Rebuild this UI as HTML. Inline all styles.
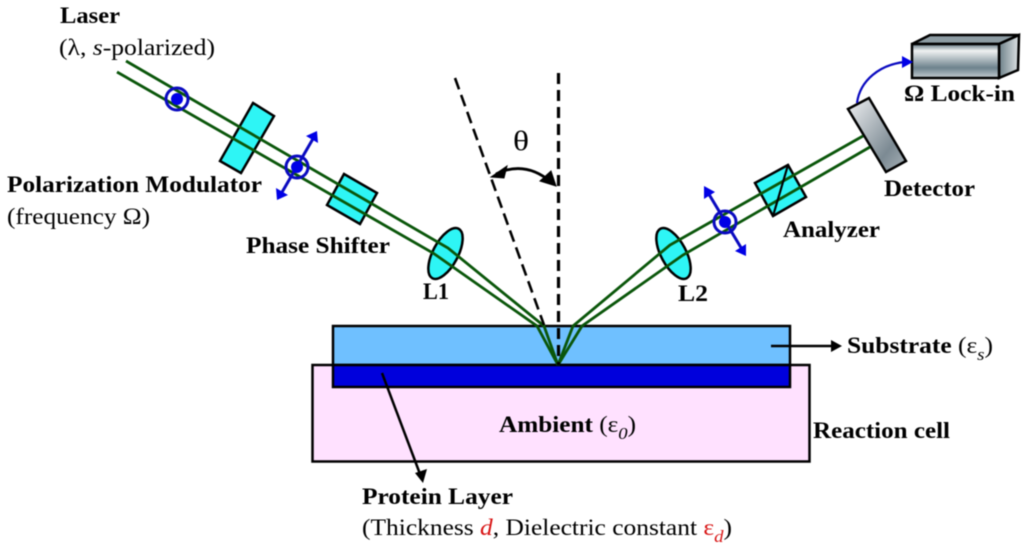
<!DOCTYPE html>
<html><head><meta charset="utf-8"><style>
html,body{margin:0;padding:0;background:#fff;width:1024px;height:549px;overflow:hidden}
svg{display:block;filter:blur(0.45px)}
text{font-family:"Liberation Serif",serif;font-size:23px;fill:#000}
.b{font-weight:bold}
.s{font-size:17px;font-style:italic}
.r{fill:#d81414}
</style></head><body>
<svg width="1024" height="549" viewBox="0 0 1024 549" xmlns="http://www.w3.org/2000/svg">
<defs>
<linearGradient id="g1" x1="0" y1="0" x2="0" y2="1"><stop offset="0" stop-color="#5f7480"/><stop offset=".2" stop-color="#f0f2f2"/><stop offset=".7" stop-color="#6d828d"/><stop offset="1" stop-color="#c5cdd2"/></linearGradient>
<linearGradient id="g2" x1="0" y1="0" x2="1" y2="1"><stop offset="0" stop-color="#f0f1f3"/><stop offset=".7" stop-color="#7c8a93"/><stop offset="1" stop-color="#a9b3b9"/></linearGradient>
<linearGradient id="g3" x1="0" y1="0" x2="1" y2="0"><stop offset="0" stop-color="#6d8088"/><stop offset="1" stop-color="#dfe4e6"/></linearGradient>
</defs>
<g stroke="#000">
<rect x="312.500" y="365" width="497" height="96.500" fill="#ffe1ff" stroke-width="2.500"/>
<rect x="333" y="326" width="457" height="39" fill="#6fc0ff" stroke-width="2.500"/>
<rect x="333" y="365" width="457" height="22" fill="#0000dc" stroke-width="2.500"/>
<polygon points="253,103 274,116 241,173 220,161" fill="#2ef5f5" stroke-width="2.500"/>
<polygon points="344,174 377,193 360,224 327,205" fill="#2ef5f5" stroke-width="2.500"/>
<polygon points="755,183 788,165 806,197 773,216" fill="#2ef5f5" stroke-width="2.500"/>
<ellipse cx="445.500" cy="253.500" rx="12.500" ry="28" transform="rotate(28 445.500 253.500)" fill="#2ef5f5" stroke-width="2.500"/>
<ellipse cx="673.500" cy="253.500" rx="12.500" ry="28" transform="rotate(-28 673.500 253.500)" fill="#2ef5f5" stroke-width="2.500"/>
<polygon points="848,109 869,98 906,161 886,172" fill="url(#g2)" stroke-width="2.500"/>
<polygon points="912,44 999,44 1019,35 930,35" fill="#8d9ca3" stroke-width="2.500"/>
<polygon points="999,44 1019,35 1018,70 999,78" fill="url(#g3)" stroke-width="2.500"/>
<rect x="912" y="44" width="87" height="34" fill="url(#g1)" stroke-width="2.500"/>
</g>
<g fill="none" stroke="#0a560a" stroke-width="2.800">
<polyline points="126,61 448,248 544,326 558,365"/>
<polyline points="117,72 433,253 537,326 558,365"/>
<polyline points="863,136 670,245 573,326 558,365"/>
<polyline points="870,147 683,255 582,326 558,365"/>
</g>
<line x1="788" y1="165" x2="773" y2="216" stroke="#000" stroke-width="2.200"/>
<line x1="558.500" y1="73" x2="558.500" y2="365" stroke="#000" stroke-width="3.200" stroke-dasharray="11 6"/>
<line x1="455" y1="78" x2="544" y2="325" stroke="#000" stroke-width="2.600" stroke-dasharray="12 6"/>
<path d="M496,174 Q525,160 551,182" fill="none" stroke="#000" stroke-width="2.800"/>
<polygon points="491,177 507,166 504,178" fill="#000" stroke="#000"/>
<polygon points="556,186 540,181 551,171" fill="#000" stroke="#000"/>
<g fill="none" stroke="#0a0ac0" stroke-width="3">
<circle cx="177" cy="99" r="11"/><circle cx="297" cy="167" r="11"/><circle cx="725" cy="222" r="11"/>
<line x1="314" y1="137" x2="281" y2="194"/>
<line x1="707" y1="191" x2="743" y2="251"/>
<path d="M857,103 C860,80 880,65 904,62" stroke-width="2.200"/>
</g>
<g fill="#0000e6">
<circle cx="177" cy="99" r="6"/><circle cx="297" cy="167" r="6"/><circle cx="725" cy="222" r="6"/>
<polygon points="317,131 318,143 306,136"/>
<polygon points="277,200 276,188 288,195"/>
<polygon points="704,186 715,192 704,199"/>
<polygon points="746,256 746,244 735,251"/>
<polygon points="913,62 902,56 902,68"/>
</g>
<g stroke="#000" stroke-width="2.500">
<line x1="771" y1="346" x2="835" y2="346"/>
<line x1="382" y1="373" x2="420" y2="474"/>
</g>
<polygon points="842,346 831,340 831,352" fill="#000"/>
<polygon points="423,483 415,473 427,469" fill="#000"/>

<text class="b" x="60" y="23" textLength="60" lengthAdjust="spacingAndGlyphs">Laser</text>
<text x="59" y="55" textLength="156" lengthAdjust="spacingAndGlyphs">(λ, <tspan font-style="italic">s</tspan>-polarized)</text>
<text class="b" x="7" y="192" textLength="255" lengthAdjust="spacingAndGlyphs">Polarization Modulator</text>
<text x="7" y="224" textLength="143" lengthAdjust="spacingAndGlyphs">(frequency Ω)</text>
<text class="b" x="246" y="253" textLength="144" lengthAdjust="spacingAndGlyphs">Phase Shifter</text>
<text class="b" x="423" y="299" textLength="26" lengthAdjust="spacingAndGlyphs">L1</text>
<text class="b" x="678" y="301" textLength="30" lengthAdjust="spacingAndGlyphs">L2</text>
<text x="513" y="150" style="font-size:27px" textLength="16" lengthAdjust="spacingAndGlyphs">θ</text>
<text class="b" x="783" y="237" textLength="97" lengthAdjust="spacingAndGlyphs">Analyzer</text>
<text class="b" x="884" y="196" textLength="91" lengthAdjust="spacingAndGlyphs">Detector</text>
<text class="b" x="904" y="101" textLength="111" lengthAdjust="spacingAndGlyphs">Ω Lock-in</text>
<text x="847" y="353" textLength="146" lengthAdjust="spacingAndGlyphs"><tspan class="b">Substrate</tspan> (ε<tspan class="s" dy="7">s</tspan><tspan dy="-7">)</tspan></text>
<text class="b" x="813" y="438" textLength="137" lengthAdjust="spacingAndGlyphs">Reaction cell</text>
<text x="499" y="432" textLength="137" lengthAdjust="spacingAndGlyphs"><tspan class="b">Ambient</tspan> (ε<tspan class="s" dy="7">0</tspan><tspan dy="-7">)</tspan></text>
<text class="b" x="362" y="504" textLength="151" lengthAdjust="spacingAndGlyphs">Protein Layer</text>
<text x="362" y="535" textLength="370" lengthAdjust="spacingAndGlyphs">(Thickness <tspan class="r" font-style="italic">d</tspan>, Dielectric constant <tspan class="r">ε</tspan><tspan class="s r" dy="7">d</tspan><tspan dy="-7">)</tspan></text>
</svg>
</body></html>
